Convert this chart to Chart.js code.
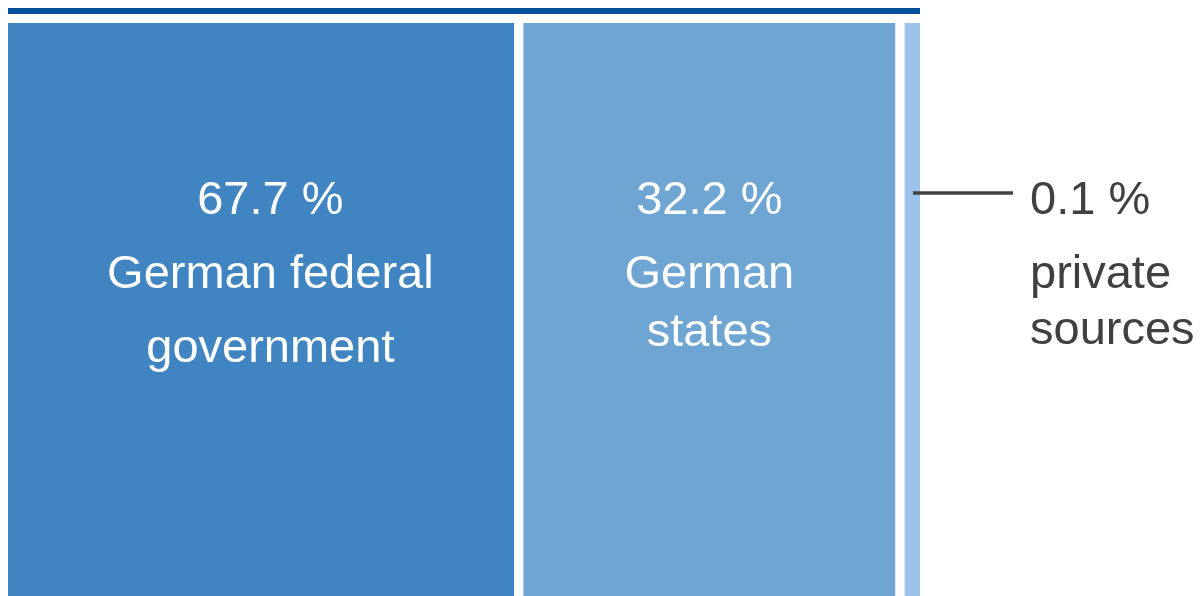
<!DOCTYPE html>
<html>
<head>
<meta charset="utf-8">
<script src="https://cdn.jsdelivr.net/npm/chart.js@4/dist/chart.umd.min.js"></script>
<style>
  html, body { margin: 0; padding: 0; background: #fff; overflow: hidden; }
  #wrap { width: 1202px; height: 596px; position: relative; }
</style>
</head>
<body>
<div id="wrap"><canvas id="fundingChart"></canvas></div>
<script>
// shares of funding
const sources = ["German federal government", "German states", "private sources"];
const shares = [67.7, 32.2, 0.1];
// segment lengths as drawn in the reference (not to scale), in % of bar
const drawnLengths = [56.0, 41.8, 2.2];
const labelLines = [
  ["German federal", "government"],
  ["German", "states"],
  ["private", "sources"]
];
const colors = ["#4085c1", "#6fa5d3", "#9bc2e8"];

const FONT = "47px 'Liberation Sans', Arial, sans-serif";

const labelPlugin = {
  id: "labels",
  afterDatasetsDraw(chart) {
    const { ctx, chartArea } = chart;
    ctx.save();

    // blue rule above the bar
    ctx.fillStyle = "#00509e";
    ctx.fillRect(chartArea.left, chartArea.top - 15, chartArea.right - chartArea.left, 6);

    ctx.font = FONT;
    ctx.textBaseline = "alphabetic";
    const firstLine = chartArea.top + 191;
    // baseline steps below the percentage line
    const steps = [[74, 148], [74, 132], [74, 130]];

    chart.data.datasets.forEach((ds, i) => {
      const bar = chart.getDatasetMeta(i).data[0];
      const pct = shares[i].toFixed(1) + " %";
      if (i < 2) {
        const cx = (bar.x + bar.base) / 2 + (i === 0 ? 7 : 0);
        ctx.fillStyle = "#ffffff";
        ctx.textAlign = "center";
        ctx.fillText(pct, cx, firstLine);
        labelLines[i].forEach((t, k) => ctx.fillText(t, cx, firstLine + steps[i][k]));
      } else {
        // callout for the tiny segment
        ctx.strokeStyle = "#404040";
        ctx.lineWidth = 3.5;
        ctx.beginPath();
        ctx.moveTo(bar.x - 7, firstLine - 21);
        ctx.lineTo(bar.x + 93, firstLine - 21);
        ctx.stroke();
        const tx = bar.x + 110;
        ctx.fillStyle = "#404040";
        ctx.textAlign = "left";
        ctx.fillText(pct, tx, firstLine);
        labelLines[i].forEach((t, k) => ctx.fillText(t, tx, firstLine + steps[i][k]));
      }
    });
    ctx.restore();
  }
};

new Chart(document.getElementById("fundingChart"), {
  type: "bar",
  data: {
    labels: ["Funding"],
    datasets: sources.map((s, i) => ({
      label: s,
      data: [drawnLengths[i]],
      backgroundColor: colors[i],
      borderColor: "#ffffff",
      borderWidth: {
        left: i === 0 ? 0 : 5,
        right: i === 2 ? 0 : 5,
        top: 0,
        bottom: 0
      },
      borderSkipped: false,
      barPercentage: 1,
      categoryPercentage: 1
    }))
  },
  options: {
    indexAxis: "y",
    responsive: true,
    maintainAspectRatio: false,
    animation: false,
    layout: { padding: { left: 8, right: 282, top: 23, bottom: 0 } },
    plugins: {
      legend: { display: false },
      tooltip: { enabled: false }
    },
    scales: {
      x: { stacked: true, min: 0, max: 100, display: false },
      y: { stacked: true, display: false }
    }
  },
  plugins: [labelPlugin]
});
</script>
</body>
</html>
